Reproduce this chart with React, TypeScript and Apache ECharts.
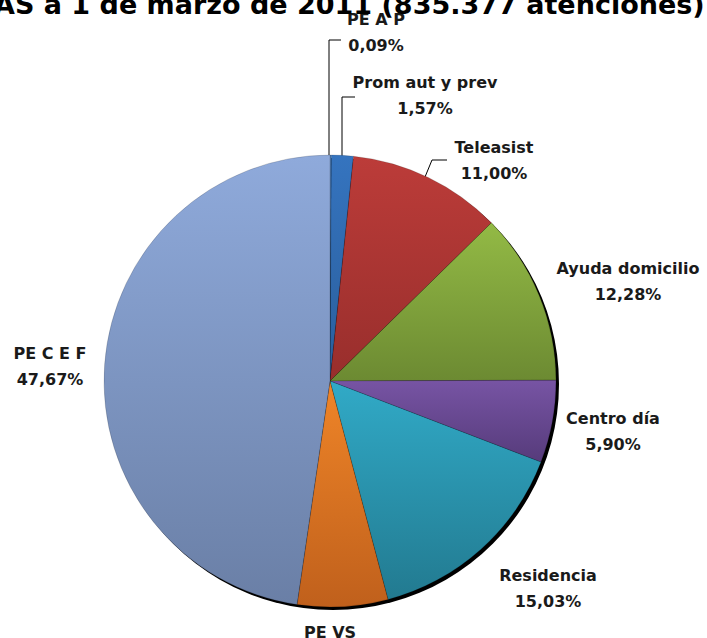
import React, { useEffect, useRef } from "react";
import * as echarts from "echarts";

const categories = [
  "PE A P",
  "Prom aut y prev",
  "Teleasist",
  "Ayuda domicilio",
  "Centro día",
  "Residencia",
  "PE VS",
  "PE C E F",
];
const percentages = [0.09, 1.57, 11.0, 12.28, 5.9, 15.03, 6.46, 47.67];
const titleText = "AS a 1 de marzo de 2011 (835.377 atenciones)";

const sliceColors: [string, string][] = [
  ["#5A8AC6", "#3F6FA8"],
  ["#3574BF", "#2A5E9C"],
  ["#BC3C39", "#982E2C"],
  ["#93BA45", "#6C8A32"],
  ["#7754A4", "#563B7B"],
  ["#31AAC7", "#227A90"],
  ["#EF8528", "#C0601C"],
  ["#8FAADB", "#6A7FA6"],
];

const labelCenters: [number, number][] = [
  [376, 32],
  [425, 95],
  [494, 160],
  [628, 281],
  [613, 431],
  [548, 588],
  [330, 645],
  [50, 366],
];

const labelLines: ([number, number][] | null)[] = [
  [[329, 157], [329, 40], [341, 40]],
  [[342, 157], [342, 97], [355, 97]],
  [[425, 177], [432, 160], [447, 160]],
  null,
  null,
  null,
  null,
  null,
];

const fmt = (v: number) => v.toFixed(2).replace(".", ",") + "%";

export default function App() {
  const ref = useRef<HTMLDivElement>(null);
  useEffect(() => {
    if (!ref.current) return;
    const chart = echarts.init(ref.current, null, { renderer: "svg" });
    const font = "'DejaVu Sans', sans-serif";
    chart.setOption({
      animation: false,
      backgroundColor: "#ffffff",
      title: {
        text: titleText,
        left: -11,
        top: -14,
        textStyle: { fontSize: 27, fontWeight: "bold", fontFamily: font, color: "#000" },
      },
      series: [
        {
          type: "pie",
          silent: true,
          center: [333, 384],
          radius: 226,
          label: { show: false },
          labelLine: { show: false },
          itemStyle: { color: "#000" },
          data: [{ value: 1, name: "" }],
          z: 1,
        },
        {
          type: "pie",
          center: [330, 381],
          radius: 226,
          startAngle: 90,
          clockwise: true,
          avoidLabelOverlap: false,
          z: 2,
          itemStyle: { borderColor: "rgba(0,0,0,0.25)", borderWidth: 0.6 },
          label: {
            show: true,
            position: "outside",
            fontFamily: font,
            fontWeight: "bold",
            fontSize: 16,
            lineHeight: 26,
            color: "#1a1a1a",
            formatter: (p: any) => `${p.name}\n${fmt(percentages[p.dataIndex])}`,
          },
          labelLine: { lineStyle: { color: "#000", width: 1 }, length: 10, length2: 10 },
          labelLayout: (params: any) => {
            const i = params.dataIndex;
            const out: any = {
              x: labelCenters[i][0],
              y: labelCenters[i][1],
              align: "center",
              verticalAlign: "middle",
            };
            if (labelLines[i]) out.labelLinePoints = labelLines[i];
            return out;
          },
          data: categories.map((name, i) => ({
            name,
            value: percentages[i],
            labelLine: { show: labelLines[i] !== null },
            itemStyle: {
              color: new echarts.graphic.LinearGradient(0, 0, 0, 1, [
                { offset: 0, color: sliceColors[i][0] },
                { offset: 1, color: sliceColors[i][1] },
              ]),
            },
          })),
        },
      ],
    });
    return () => chart.dispose();
  }, []);
  return (
    <div
      ref={ref}
      style={{ position: "fixed", left: 0, top: 0, width: 707, height: 638 }}
    />
  );
}
